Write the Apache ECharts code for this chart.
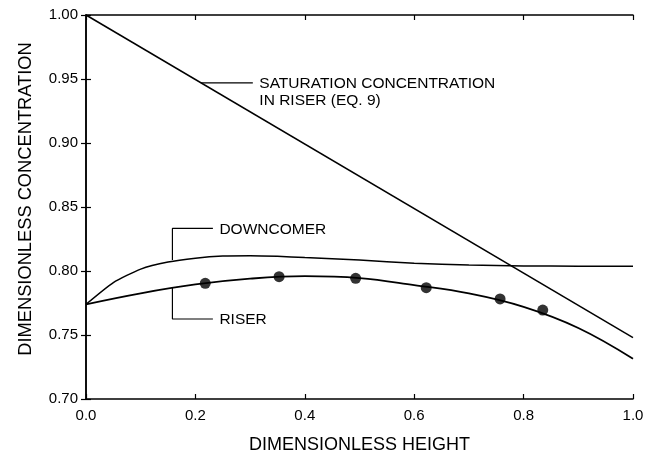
<!DOCTYPE html>
<html>
<head>
<meta charset="utf-8">
<script src="https://cdn.jsdelivr.net/npm/echarts@6/dist/echarts.min.js"></script>
<style>
  html, body { margin: 0; padding: 0; background: #fff; }
  #chart { width: 657px; height: 459px; }
</style>
</head>
<body>
<div id="chart"></div>
<script>
// axis ticks
var xTicks = [0.0, 0.2, 0.4, 0.6, 0.8, 1.0];
var yTicks = [0.70, 0.75, 0.80, 0.85, 0.90, 0.95, 1.00];

// saturation concentration in riser (eq. 9)
var satX = [0.0, 1.0];
var satY = [1.000, 0.748];

// downcomer curve
var downX = [0.0, 0.05, 0.1, 0.15, 0.2, 0.25, 0.3, 0.35, 0.4, 0.5, 0.6, 0.7, 0.8, 0.9, 1.0];
var downY = [0.774, 0.791, 0.8015, 0.807, 0.810, 0.8117, 0.812, 0.8115, 0.8105, 0.8085, 0.806, 0.8047, 0.804, 0.8037, 0.8037];

// riser curve
var riserX = [0.0, 0.1, 0.2, 0.3, 0.4, 0.5, 0.6, 0.7, 0.8, 0.9, 1.0];
var riserY = [0.774, 0.7826, 0.7895, 0.794, 0.796, 0.7945, 0.789, 0.7825, 0.772, 0.7555, 0.7315];

// measured points
var ptX = [0.218, 0.353, 0.493, 0.622, 0.757, 0.835];
var ptY = [0.7904, 0.7956, 0.7943, 0.787, 0.7782, 0.7695];

// label leaders (data coords)
var satLeader = [[0.21, 0.947], [0.305, 0.947]];
var downLeader = [[0.158, 0.8085], [0.158, 0.8333], [0.232, 0.8333]];
var riserLeader = [[0.158, 0.7873], [0.158, 0.7625], [0.232, 0.7625]];

function pairs(xs, ys) {
  return xs.map(function (x, i) { return [x, ys[i]]; });
}

var black = '#000';
var font = 'Liberation Sans, Arial, Helvetica, sans-serif';

// leader line with its text at the last point
function leader(pts, text) {
  return {
    type: 'line',
    data: pts.map(function (p, i) {
      var d = { value: p };
      if (i === pts.length - 1) {
        d.label = {
          show: true,
          formatter: text,
          position: [7, -7],
          align: 'left',
          verticalAlign: 'top',
          lineHeight: 17,
          fontSize: 15.5,
          fontFamily: font,
          color: black
        };
      }
      return d;
    }),
    showSymbol: true,
    symbol: 'circle',
    symbolSize: 1,
    itemStyle: { color: 'rgba(0,0,0,0)' },
    lineStyle: { color: black, width: 1.2 },
    silent: true,
    z: 3
  };
}

var chart = echarts.init(document.getElementById('chart'));

var axisCommon = {
  type: 'value',
  axisLine: { show: true, lineStyle: { color: black, width: 1.5 } },
  axisTick: { show: true, inside: true, length: 5, lineStyle: { color: black, width: 1.2 } },
  splitLine: { show: false }
};

chart.setOption({
  animation: false,
  grid: { left: 86, top: 15, right: 24, bottom: 59 },
  xAxis: [
    Object.assign({}, axisCommon, {
      min: 0, max: 1, interval: 0.2,
      position: 'bottom',
      axisLabel: {
        color: black, fontSize: 15, fontFamily: font, margin: 9,
        formatter: function (v) { return v.toFixed(1); }
      },
      name: 'DIMENSIONLESS HEIGHT',
      nameLocation: 'middle',
      nameGap: 37,
      nameTextStyle: { color: black, fontSize: 18, fontFamily: font }
    }),
    Object.assign({}, axisCommon, {
      min: 0, max: 1, interval: 0.2,
      position: 'top',
      axisLabel: { show: false }
    })
  ],
  yAxis: [
    Object.assign({}, axisCommon, {
      min: 0.7, max: 1.0, interval: 0.05,
      position: 'left',
      axisLabel: {
        color: black, fontSize: 15, fontFamily: font, margin: 8,
        formatter: function (v) { return v.toFixed(2); }
      },
      name: 'DIMENSIONLESS CONCENTRATION',
      nameLocation: 'middle',
      nameGap: 51,
      nameTextStyle: { color: black, fontSize: 18.3, fontFamily: font, padding: [0, 0, 0, 16] }
    }),
    Object.assign({}, axisCommon, {
      min: 0.7, max: 1.0, interval: 0.05,
      position: 'right',
      axisLabel: { show: false }
    })
  ],
  series: [
    {
      type: 'line',
      data: pairs(satX, satY),
      symbol: 'none',
      lineStyle: { color: black, width: 1.5 }
    },
    {
      type: 'line',
      data: pairs(downX, downY),
      symbol: 'none',
      smooth: 0.2,
      lineStyle: { color: black, width: 1.5 }
    },
    {
      type: 'line',
      data: pairs(riserX, riserY),
      symbol: 'none',
      smooth: 0.4,
      lineStyle: { color: black, width: 1.8 }
    },
    {
      type: 'scatter',
      data: pairs(ptX, ptY),
      symbol: 'circle',
      symbolSize: 11,
      itemStyle: { color: black }
    },
    leader(satLeader, 'SATURATION CONCENTRATION\nIN RISER (EQ. 9)'),
    leader(downLeader, 'DOWNCOMER'),
    leader(riserLeader, 'RISER')
  ]
});
</script>
</body>
</html>
